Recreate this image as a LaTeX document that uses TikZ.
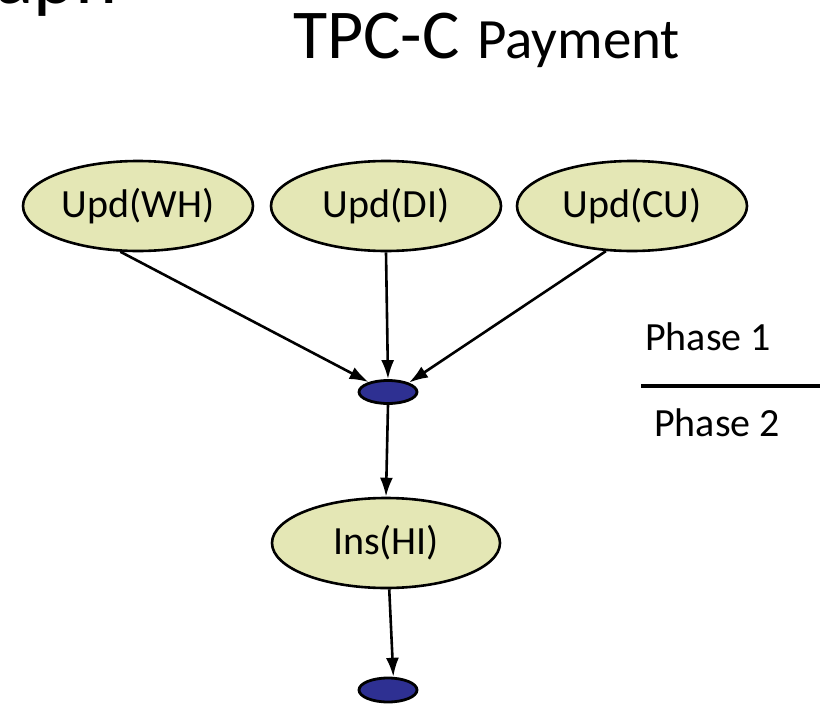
\documentclass[tikz,border=0pt]{standalone}
\usepackage{fontspec}
\setmainfont{Carlito}
\usetikzlibrary{shapes.geometric,arrows.meta}
\definecolor{opfill}{RGB}{228,231,181}
\definecolor{syncfill}{RGB}{46,48,146}
\tikzset{
  opnode/.style={ellipse, draw=black, line width=2.6pt, fill=opfill,
    minimum width=230pt, minimum height=90pt, inner sep=0pt,
    font=\fontsize{40}{44}\selectfont},
  syncnode/.style={ellipse, draw=black, line width=2.8pt, fill=syncfill,
    minimum width=58pt, minimum height=23pt, inner sep=0pt},
  flow/.style={draw=black, line width=2.6pt, -{Latex[length=19pt,width=13pt]}},
  phaselabel/.style={anchor=base west, inner sep=0pt, font=\fontsize{40}{44}\selectfont}
}
\begin{document}
\begin{tikzpicture}[x=1pt, y=-1pt]
  \useasboundingbox (0,0) rectangle (820,704);
  \clip (0,0) rectangle (820,704);

  % headings
  \node[anchor=base west, inner sep=0pt, font=\fontsize{80}{80}\selectfont] (head) at (-5,3) {aph};
  \node[anchor=base west, inner sep=0pt, font=\fontsize{70}{70}\selectfont] (tpcc) at (293,58) {TPC-C};
  \node[anchor=base west, inner sep=0pt, font=\fontsize{57}{57}\selectfont] (pay) at (477,58) {Payment};

  % operations
  \node[opnode] (wh) at (138,206) {Upd(WH)};
  \node[opnode] (di) at (386,206) {Upd(DI)};
  \node[opnode] (cu) at (632,206) {Upd(CU)};
  \node[syncnode] (d1) at (388,392) {};
  \node[opnode, minimum width=228pt] (hi) at (386,543) {Ins(HI)};
  \node[syncnode, minimum height=24pt] (d2) at (388,690) {};

  % dependencies
  \draw[flow] (wh.249) -- (d1.153);
  \draw[flow] (di.south) -- (d1.north);
  \draw[flow] (cu.240) -- (d1.24);
  \draw[flow] (d1.south) -- (hi.north);
  \draw[flow] (hi.274) -- (d2.68);

  % phase separator
  \node[phaselabel] (p1) at (645,350) {Phase 1};
  \node[phaselabel] (p2) at (654,436) {Phase 2};
  \coordinate (sepL) at (641,386);
  \coordinate (sepR) at (822,386);
  \draw[line width=4pt] (sepL) -- (sepR);
\end{tikzpicture}
\end{document}
